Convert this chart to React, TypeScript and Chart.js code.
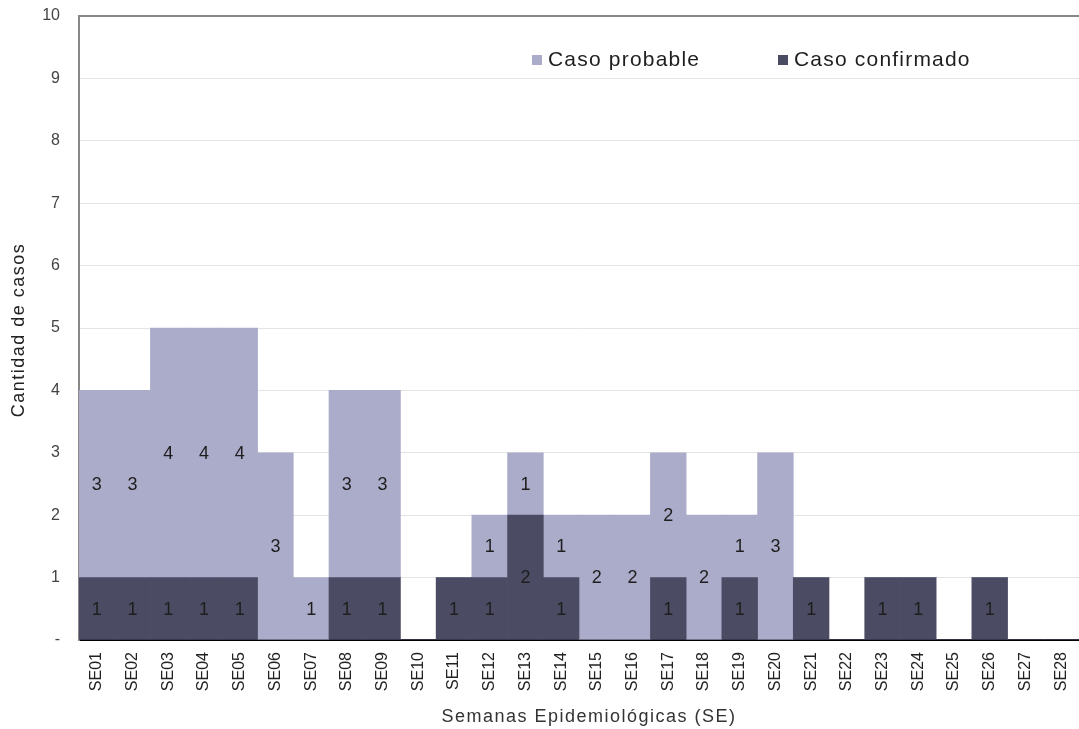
import React, { useEffect, useRef } from "react";
import { Chart, registerables } from "chart.js";

Chart.register(...registerables);

const weeks = [
  "SE01", "SE02", "SE03", "SE04", "SE05", "SE06", "SE07", "SE08", "SE09", "SE10",
  "SE11", "SE12", "SE13", "SE14", "SE15", "SE16", "SE17", "SE18", "SE19", "SE20",
  "SE21", "SE22", "SE23", "SE24", "SE25", "SE26", "SE27", "SE28",
];
const confirmados = [1, 1, 1, 1, 1, 0, 0, 1, 1, 0, 1, 1, 2, 1, 0, 0, 1, 0, 1, 0, 1, 0, 1, 1, 0, 1, 0, 0];
const probables = [3, 3, 4, 4, 4, 3, 1, 3, 3, 0, 0, 1, 1, 1, 2, 2, 2, 2, 1, 3, 0, 0, 0, 0, 0, 0, 0, 0];
const yTickLabels = ["-", "1", "2", "3", "4", "5", "6", "7", "8", "9", "10"];
const xTitle = "Semanas Epidemiológicas (SE)";
const yTitle = "Cantidad de casos";

const COLOR_PROB = "#ABABCA";
const COLOR_CONF = "#4B4B63";
const FONT = "'Liberation Sans', Arial, sans-serif";

const extrasPlugin = {
  id: "extras",
  beforeDatasetsDraw(chart: any) {
    const { ctx, chartArea } = chart;
    ctx.save();
    ctx.strokeStyle = "#888888";
    ctx.lineWidth = 2;
    ctx.beginPath();
    ctx.moveTo(chartArea.left - 1, chartArea.top);
    ctx.lineTo(chart.width, chartArea.top);
    ctx.stroke();
    ctx.restore();
  },
  afterDatasetsDraw(chart: any) {
    const { ctx, chartArea } = chart;
    ctx.save();
    ctx.font = `18px ${FONT}`;
    ctx.fillStyle = "#1e1e1e";
    ctx.textAlign = "center";
    ctx.textBaseline = "middle";
    chart.data.datasets.forEach((ds: any, di: number) => {
      const meta = chart.getDatasetMeta(di);
      meta.data.forEach((el: any, i: number) => {
        const v = ds.data[i];
        if (!v) return;
        const cy = (el.y + el.base) / 2;
        ctx.fillText(String(v), el.x, cy + 1);
      });
    });
    // legend inside plot
    const items = [
      { label: "Caso probable", color: COLOR_PROB, x: 532 },
      { label: "Caso confirmado", color: COLOR_CONF, x: 778 },
    ];
    (ctx as any).letterSpacing = "1.2px";
    ctx.font = `21px ${FONT}`;
    ctx.textAlign = "left";
    ctx.textBaseline = "middle";
    items.forEach((it) => {
      ctx.fillStyle = it.color;
      ctx.fillRect(it.x, 55, 10, 10);
      ctx.fillStyle = "#1e1e1e";
      ctx.fillText(it.label, it.x + 16, 60);
    });
    // axis titles
    (ctx as any).letterSpacing = "1.5px";
    ctx.font = `18px ${FONT}`;
    ctx.fillStyle = "#333333";
    ctx.textAlign = "center";
    ctx.fillText(xTitle, 589, 717);
    ctx.translate(19, (chartArea.top + chartArea.bottom) / 2 + 2);
    ctx.rotate(-Math.PI / 2);
    ctx.fillStyle = "#222222";
    ctx.fillText(yTitle, 0, 0);
    ctx.restore();
  },
};

export default function App() {
  const ref = useRef<HTMLCanvasElement | null>(null);
  useEffect(() => {
    document.body.style.margin = "0";
    const canvas = ref.current!;
    const chart = new Chart(canvas, {
      type: "bar",
      data: {
        labels: weeks,
        datasets: [
          {
            label: "Caso confirmado",
            data: confirmados,
            backgroundColor: COLOR_CONF,
            borderWidth: 0,
            barPercentage: 1,
            categoryPercentage: 1,
          },
          {
            label: "Caso probable",
            data: probables,
            backgroundColor: COLOR_PROB,
            borderWidth: 0,
            barPercentage: 1,
            categoryPercentage: 1,
          },
        ],
      },
      options: {
        animation: false,
        responsive: false,
        layout: { padding: { top: 16, right: 0, left: 0, bottom: 0 } },
        plugins: {
          legend: { display: false },
          tooltip: { enabled: false },
        },
        scales: {
          x: {
            stacked: true,
            grid: { display: false, drawTicks: false },
            border: { color: "#000000", width: 2 },
            ticks: {
              maxRotation: 90,
              minRotation: 90,
              autoSkip: false,
              padding: 12,
              color: "#222222",
              font: { family: FONT, size: 16 },
            },
            afterFit: (s: any) => {
              s.height = 89;
              s.paddingLeft = 0;
              s.paddingRight = 0;
            },
          },
          y: {
            stacked: true,
            min: 0,
            max: 10,
            grid: { color: "#e4e4e4", lineWidth: 1, drawTicks: false },
            border: { color: "#888888", width: 2 },
            ticks: {
              stepSize: 1,
              padding: 19,
              color: "#444444",
              font: { family: FONT, size: 16 },
              callback: (_v: any, i: number) => yTickLabels[i],
            },
            afterFit: (s: any) => {
              s.width = 79;
              s.paddingTop = 0;
              s.paddingBottom = 0;
            },
          },
        },
      },
      plugins: [extrasPlugin],
    });
    return () => chart.destroy();
  }, []);
  return (
    <div style={{ width: 1079, height: 729 }}>
      <canvas ref={ref} width={1079} height={729} style={{ display: "block" }} />
    </div>
  );
}
